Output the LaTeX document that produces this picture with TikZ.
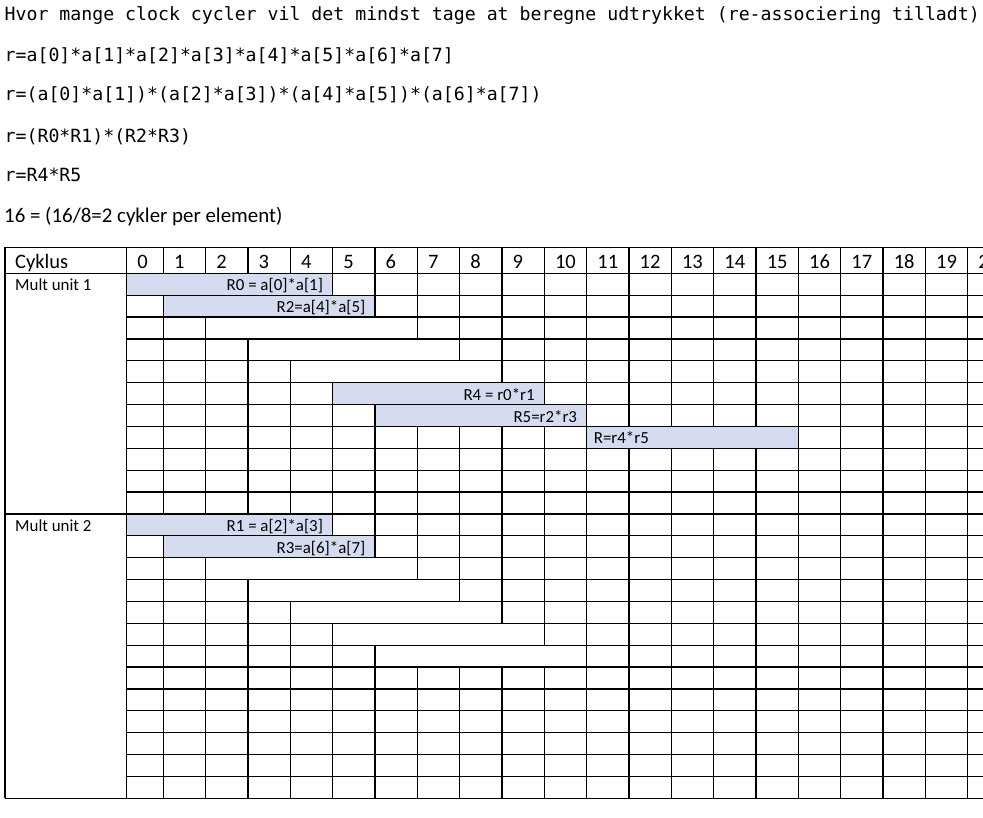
\documentclass[tikz,border=0pt]{standalone}
\usepackage{fontspec}
\setmainfont{Carlito}
\newfontfamily\codefont{DejaVu Sans Mono}
\definecolor{cellblue}{RGB}{214,220,240}

% left edge of column #1 and top of body row #1
\newcommand{\colx}[1]{ifthenelse(#1==0,126.7,163.3+(#1-1)*42.34)}
\newcommand{\rowy}[1]{(273.3+(#1)*21.875)}

\begin{document}
\begin{tikzpicture}[x=1pt, y=-1pt,
  codeline/.style={anchor=base west, inner sep=0pt, font=\codefont\fontsize{18.2}{20}\selectfont},
  textline/.style={anchor=base west, inner sep=0pt, font=\fontsize{20.9}{24}\selectfont},
  headtxt/.style={anchor=base west, inner sep=0pt, font=\fontsize{20.5}{24}\selectfont},
  celltxt/.style={inner sep=0pt, font=\fontsize{16.9}{20}\selectfont},
  tabline/.style={line width=1.2pt},
  cellfill/.style={fill=cellblue}]
  \useasboundingbox (0,0) rectangle (983,818);
  \clip (0,0) rectangle (983,818);

  % question and the expression
  \node[codeline] (q)  at (4.5,20.7)  {Hvor mange clock cycler vil det mindst tage at beregne udtrykket (re-associering tilladt)};
  \node[codeline] (e1) at (4.5,62)    {r=a[0]*a[1]*a[2]*a[3]*a[4]*a[5]*a[6]*a[7]};
  \node[codeline] (e2) at (4.5,101)   {r=(a[0]*a[1])*(a[2]*a[3])*(a[4]*a[5])*(a[6]*a[7])};
  \node[codeline] (e3) at (4.5,142.5) {r=(R0*R1)*(R2*R3)};
  \node[codeline] (e4) at (4.5,182)   {r=R4*R5};
  \node[textline] (ans) at (4,222.7)  {16 = (16/8=2 cykler per element)};

  % merged cells with the products
  \fill[cellfill] ({\colx{0}},{\rowy{0}}) rectangle ({\colx{5}},{\rowy{1}});
  \fill[cellfill] ({\colx{1}},{\rowy{1}}) rectangle ({\colx{6}},{\rowy{2}});
  \fill[cellfill] ({\colx{5}},{\rowy{5}}) rectangle ({\colx{10}},{\rowy{6}});
  \fill[cellfill] ({\colx{6}},{\rowy{6}}) rectangle ({\colx{11}},{\rowy{7}});
  \fill[cellfill] ({\colx{11}},{\rowy{7}}) rectangle ({\colx{16}},{\rowy{8}});
  \fill[cellfill] ({\colx{0}},{\rowy{11}}) rectangle ({\colx{5}},{\rowy{12}});
  \fill[cellfill] ({\colx{1}},{\rowy{12}}) rectangle ({\colx{6}},{\rowy{13}});

  % frame and unit borders
  \draw[tabline] (5,247.3) -- (990,247.3);
  \draw[tabline] (5,{\rowy{0}}) -- (990,{\rowy{0}});
  \draw[tabline] (5,{\rowy{11}}) -- (990,{\rowy{11}});
  \draw[tabline] (5,{\rowy{24}}) -- (990,{\rowy{24}});
  \draw[tabline] (5,247.3) -- (5,{\rowy{24}});
  \draw[tabline] ({\colx{0}},247.3) -- ({\colx{0}},{\rowy{24}});
  \foreach \r in {1,...,23}
    \draw[tabline] ({\colx{0}},{\rowy{\r}}) -- (990,{\rowy{\r}});
  \foreach \k in {1,...,20}
    \draw[tabline] ({\colx{\k}},247.3) -- ({\colx{\k}},{\rowy{0}});
  % row by row; edges \a..\b are inside a merged cell
  \foreach \r/\a/\b in {0/1/4,1/2/5,2/3/6,3/4/7,4/5/8,5/6/9,6/7/10,7/12/15,8/0/0,9/0/0,10/0/0,
                        11/1/4,12/2/5,13/3/6,14/4/7,15/5/8,16/6/9,17/7/10,
                        18/0/0,19/0/0,20/0/0,21/0/0,22/0/0,23/0/0}
    \foreach \k in {1,...,20} {
      \pgfmathtruncatemacro\hide{and(\k>=\a,\k<=\b)}
      \ifnum\hide=0
        \draw[tabline] ({\colx{\k}},{\rowy{\r}}) -- ({\colx{\k}},{\rowy{\r+1}});
      \fi
    }

  % header
  \node[headtxt] (cyklus) at (15,268.3) {Cyklus};
  \foreach \k in {0,...,20}
    \node[headtxt] (c\k) at ({\colx{\k}+10.5},268.3) {\k};

  % units and products
  \node[celltxt, anchor=base west] (mu1) at (15,{\rowy{0}+17.5}) {Mult unit 1};
  \node[celltxt, anchor=base west] (mu2) at (15,{\rowy{11}+17.5}) {Mult unit 2};
  \node[celltxt, anchor=base east] (r0) at ({\colx{5}-9.5},{\rowy{0}+17.5}) {R0 = a[0]*a[1]};
  \node[celltxt, anchor=base east] (r2) at ({\colx{6}-9.5},{\rowy{1}+17.5}) {R2=a[4]*a[5]};
  \node[celltxt, anchor=base east] (r4) at ({\colx{10}-9.5},{\rowy{5}+17.5}) {R4 = r0*r1};
  \node[celltxt, anchor=base east] (r5) at ({\colx{11}-9.5},{\rowy{6}+17.5}) {R5=r2*r3};
  \node[celltxt, anchor=base west] (res) at ({\colx{11}+7},{\rowy{7}+17.5}) {R=r4*r5};
  \node[celltxt, anchor=base east] (r1) at ({\colx{5}-9.5},{\rowy{11}+17.5}) {R1 = a[2]*a[3]};
  \node[celltxt, anchor=base east] (r3) at ({\colx{6}-9.5},{\rowy{12}+17.5}) {R3=a[6]*a[7]};
\end{tikzpicture}
\end{document}
